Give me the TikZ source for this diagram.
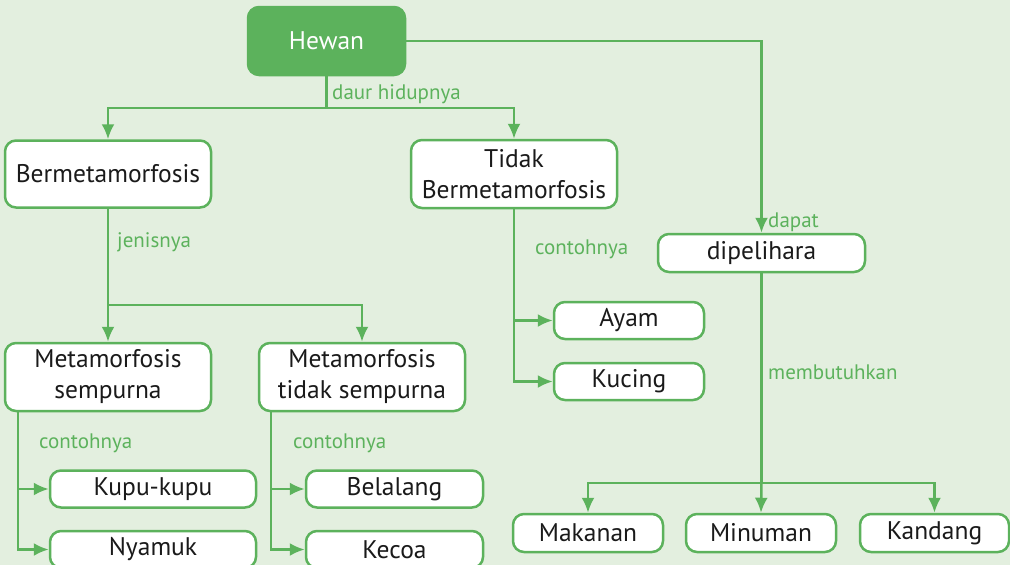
\documentclass[tikz,border=0pt]{standalone}
\usepackage{fontspec}
\setmainfont{PT Sans}
\usetikzlibrary{arrows.meta,positioning}
\definecolor{LeafGreen}{HTML}{5CB25C}
\definecolor{PaleGreen}{HTML}{E3EFDF}
\definecolor{TextInk}{HTML}{1A1A1A}
\tikzset{
  kotak/.style={draw=LeafGreen,line width=2.5pt,fill=white,rounded corners=11pt,
    font=\fontsize{25.5}{31}\selectfont,text=TextInk,align=center,inner sep=0pt},
  induk/.style={kotak,draw=LeafGreen,fill=LeafGreen,text=white},
  alur/.style={LeafGreen,line width=2.5pt},
  panah/.style={alur,-{Latex[length=15pt,width=13pt]}},
  ket/.style={text=LeafGreen,font=\fontsize{21}{24}\selectfont,anchor=base west,inner sep=0pt},
}
\begin{document}
\begin{tikzpicture}[x=1pt,y=-1pt]
  \useasboundingbox[fill=PaleGreen] (0,0) rectangle (1010,565);
  % kotak konsep
  \node[induk,minimum width=157pt,minimum height=68pt] (hewan) at (326.5,41) {Hewan};
  \node[kotak,minimum width=206pt,minimum height=67pt] (bermeta) at (108,174) {Bermetamorfosis};
  \node[kotak,minimum width=206pt,minimum height=68pt] (tidak) at (514,174) {Tidak\\Bermetamorfosis};
  \node[kotak,minimum width=206pt,minimum height=68pt] (metsemp) at (108,377) {Metamorfosis\\sempurna};
  \node[kotak,minimum width=206pt,minimum height=68pt] (mettidak) at (362,377) {Metamorfosis\\tidak sempurna};
  \node[kotak,minimum width=206pt,minimum height=37pt] (kupu) at (153,489) {Kupu-kupu};
  \node[kotak,minimum width=206pt,minimum height=37pt] (nyamuk) at (153,549.5) {Nyamuk};
  \node[kotak,minimum width=177pt,minimum height=37pt] (belalang) at (394.5,489) {Belalang};
  \node[kotak,minimum width=177pt,minimum height=37pt] (kecoa) at (394.5,549.5) {Kecoa};
  \node[kotak,minimum width=150pt,minimum height=37pt] (ayam) at (629,320.5) {Ayam};
  \node[kotak,minimum width=150pt,minimum height=37pt] (kucing) at (629,381.5) {Kucing};
  \node[kotak,minimum width=207pt,minimum height=38pt] (dipelihara) at (761.5,253) {dipelihara};
  \node[kotak,minimum width=150pt,minimum height=38pt] (makanan) at (588,533) {Makanan};
  \node[kotak,minimum width=150pt,minimum height=38pt] (minuman) at (761,533) {Minuman};
  \node[kotak,minimum width=149pt,minimum height=38pt] (kandang) at (934.5,533) {Kandang};

  % titik cabang
  \coordinate (cabangA) at (326.5,108);
  \coordinate (cabangB) at (108,305);
  \coordinate (cabangF) at (761.5,483);
  \coordinate (kakiC) at ([xshift=14pt]metsemp.south west);
  \coordinate (kakiD) at ([xshift=13pt]mettidak.south west);

  % penghubung
  \draw[alur] (hewan.south) -- (cabangA);
  \draw[panah] (cabangA) -| (bermeta.north);
  \draw[panah] (cabangA) -| (tidak.north);
  \draw[panah] (hewan.east) -| (dipelihara.north);
  \draw[alur] (bermeta.south) -- (cabangB);
  \draw[panah] (cabangB) -- (metsemp.north);
  \draw[panah] (cabangB) -| (mettidak.north);
  \draw[panah] (kakiC) |- (kupu.west);
  \draw[panah] (kakiC) |- (nyamuk.west);
  \draw[panah] (kakiD) |- (belalang.west);
  \draw[panah] (kakiD) |- (kecoa.west);
  \draw[panah] (tidak.south) |- (ayam.west);
  \draw[panah] (tidak.south) |- (kucing.west);
  \draw[alur] (dipelihara.south) -- (cabangF);
  \draw[panah] (cabangF) -| (makanan.north);
  \draw[panah] (cabangF) -- (minuman.north);
  \draw[panah] (cabangF) -| (kandang.north);

  % keterangan
  \node[ket] (kDaur) at (332,99) {daur hidupnya};
  \node[ket] (kDapat) at (768,227) {dapat};
  \node[ket] (kJenis) at (117,247) {jenisnya};
  \node[ket] (kContohA) at (535,254) {contohnya};
  \node[ket] (kContohB) at (39,448) {contohnya};
  \node[ket] (kContohC) at (293,448) {contohnya};
  \node[ket] (kButuh) at (768,379) {membutuhkan};
\end{tikzpicture}
\end{document}
